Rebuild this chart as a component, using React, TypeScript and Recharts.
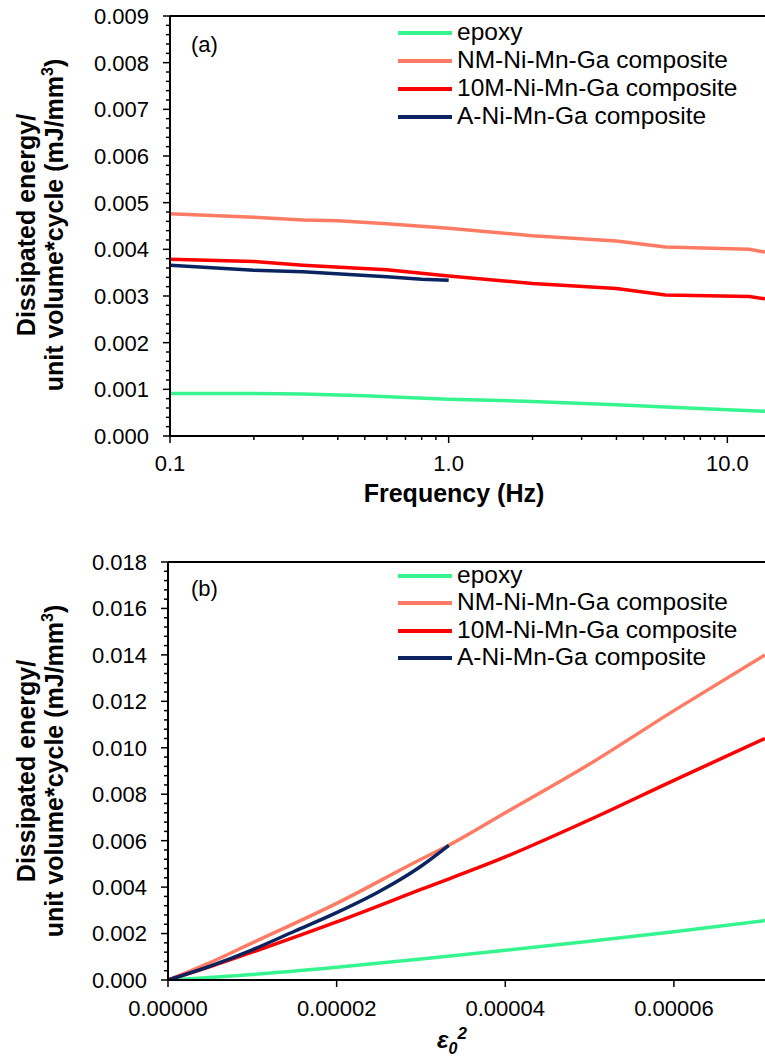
import React from 'react';
import { LineChart, Line, XAxis, YAxis, ReferenceLine } from 'recharts';

const FONT = '"Liberation Sans", Arial, Helvetica, sans-serif';

// ---------- series names & colours ----------
const seriesNames = ['epoxy', 'NM-Ni-Mn-Ga composite', '10M-Ni-Mn-Ga composite', 'A-Ni-Mn-Ga composite'];
const seriesColors = ['#36f58e', '#ff7b63', '#ff0000', '#0b2461'];

// ---------- panel (a): dissipated energy vs frequency ----------
const freqEpoxy = [0.1, 0.2, 0.3, 0.5, 1, 2, 4, 6, 10, 13.65];
const energyEpoxyA = [0.00091, 0.00091, 0.0009, 0.00086, 0.00079, 0.00074, 0.00067, 0.00062, 0.00056, 0.00053];
const freqNM = [0.1, 0.2, 0.3, 0.4, 0.6, 1, 2, 4, 6, 12, 13.65];
const energyNMA = [0.00476, 0.00469, 0.00463, 0.00461, 0.00455, 0.00445, 0.00429, 0.00418, 0.00405, 0.004, 0.00394];
const freq10M = [0.1, 0.2, 0.3, 0.6, 1, 2, 4, 6, 12, 13.65];
const energy10MA = [0.00379, 0.00374, 0.00366, 0.00356, 0.00343, 0.00327, 0.00316, 0.00302, 0.00299, 0.00294];
const freqA = [0.1, 0.2, 0.3, 0.6, 0.8, 1.0];
const energyAA = [0.00366, 0.00355, 0.00352, 0.00341, 0.00336, 0.00334];

// ---------- panel (b): dissipated energy vs strain amplitude squared ----------
const strainEpoxy = [0, 0.00001, 0.00002, 0.00003, 0.00004, 0.00005, 0.00006, 0.0000708];
const energyEpoxyB = [0, 0.00024, 0.00055, 0.0009, 0.00128, 0.00167, 0.00208, 0.00256];
const strainNM = [0, 0.000005, 0.00001, 0.00002, 0.00003, 0.0000333, 0.00004, 0.00005, 0.00006, 0.0000708];
const energyNMB = [0, 0.00075, 0.0016, 0.0033, 0.0052, 0.0058, 0.0072, 0.0093, 0.0116, 0.014];
const strain10M = [0, 0.000005, 0.00001, 0.00002, 0.00003, 0.00004, 0.00005, 0.00006, 0.0000708];
const energy10MB = [0, 0.00058, 0.0012, 0.0025, 0.0039, 0.0053, 0.0069, 0.0086, 0.0104];
const strainA = [0, 0.000005, 0.00001, 0.000015, 0.00002, 0.000025, 0.00003, 0.0000333];
const energyAB = [0, 0.0006, 0.0013, 0.0021, 0.0029, 0.0038, 0.0049, 0.0058];

// ---------- axis ticks ----------
const freqMajorTicks = [0.1, 1, 10];
const freqMajorLabels = ['0.1', '1.0', '10.0'];
const freqMinorTicks = [0.2, 0.3, 0.4, 0.5, 0.6, 0.7, 0.8, 0.9, 2, 3, 4, 5, 6, 7, 8, 9];
const yMajorTicksA = [0, 0.001, 0.002, 0.003, 0.004, 0.005, 0.006, 0.007, 0.008, 0.009];
const yMinorStepA = 0.0002;
const strainTicks = [0, 0.00002, 0.00004, 0.00006];
const strainLabels = ['0.00000', '0.00002', '0.00004', '0.00006'];
const yMajorTicksB = [0, 0.002, 0.004, 0.006, 0.008, 0.01, 0.012, 0.014, 0.016, 0.018];
const yMinorStepB = 0.0004;

const zip = (xs: number[], ys: number[]) => xs.map((x, i) => ({ x, y: ys[i] }));

const seriesA = [zip(freqEpoxy, energyEpoxyA), zip(freqNM, energyNMA), zip(freq10M, energy10MA), zip(freqA, energyAA)];
const seriesB = [zip(strainEpoxy, energyEpoxyB), zip(strainNM, energyNMB), zip(strain10M, energy10MB), zip(strainA, energyAB)];

const buildTicks = (majors: number[], step: number) => {
  const max = majors[majors.length - 1];
  const n = Math.round(max / step);
  const out: number[] = [];
  for (let i = 0; i <= n; i++) out.push(+(i * step).toFixed(6));
  return out;
};
const yTicksA = buildTicks(yMajorTicksA, yMinorStepA);
const yTicksB = buildTicks(yMajorTicksB, yMinorStepB);

const isMajor = (v: number, majors: number[]) => majors.some((m) => Math.abs(m - v) < 1e-9);

const makeYTick = (majors: number[]) => (props: any) => {
  const { x, y, payload } = props;
  const major = isMajor(payload.value, majors);
  return (
    <g>
      <line x1={x} x2={x - (major ? 7 : 4)} y1={y} y2={y} stroke="#000" strokeWidth={1.5} />
      {major && (
        <text x={x - 21} y={y} dy="0.36em" textAnchor="end" fontSize={22} fontFamily={FONT} fill="#000">
          {payload.value.toFixed(3)}
        </text>
      )}
    </g>
  );
};

const FreqTick = (props: any) => {
  const { x, y, payload } = props;
  const idx = freqMajorTicks.findIndex((m) => Math.abs(m - payload.value) < 1e-9);
  const major = idx >= 0;
  return (
    <g>
      <line x1={x} x2={x} y1={y} y2={y + (major ? 7 : 4)} stroke="#000" strokeWidth={1.5} />
      {major && (
        <text x={x} y={y + 35} textAnchor="middle" fontSize={22} fontFamily={FONT} fill="#000">
          {freqMajorLabels[idx]}
        </text>
      )}
    </g>
  );
};

const StrainTick = (props: any) => {
  const { x, y, payload } = props;
  const idx = strainTicks.findIndex((m) => Math.abs(m - payload.value) < 1e-12);
  return (
    <g>
      <line x1={x} x2={x} y1={y} y2={y + 7} stroke="#000" strokeWidth={1.5} />
      <text x={x} y={y + 36} textAnchor="middle" fontSize={22} fontFamily={FONT} fill="#000">
        {idx >= 0 ? strainLabels[idx] : ''}
      </text>
    </g>
  );
};

const Legend = ({ left, top, gap }: { left: number; top: number; gap: number }) => (
  <div style={{ position: 'absolute', left, top, fontFamily: FONT, fontSize: 24.5, color: '#000' }}>
    {seriesNames.map((name, i) => (
      <div key={name} style={{ position: 'absolute', left: 0, top: i * gap, whiteSpace: 'nowrap', height: gap }}>
        <div style={{ position: 'absolute', left: 0, top: -2, width: 54, height: 4, background: seriesColors[i] }} />
        <div style={{ position: 'absolute', left: 59, top: -15, lineHeight: '28px' }}>{name}</div>
      </div>
    ))}
  </div>
);

const YTitle = ({ cy }: { cy: number }) => (
  <g fontFamily={FONT} fontWeight="bold" fontSize={25} fill="#000">
    <text transform={`translate(35,${cy}) rotate(-90)`} textAnchor="middle">Dissipated energy/</text>
    <text transform={`translate(63,${cy}) rotate(-90)`} textAnchor="middle">
      unit volume*cycle (mJ/mm<tspan fontSize={16} dy={-10}>3</tspan><tspan dy={10}>)</tspan>
    </text>
  </g>
);

export default function App() {
  return (
    <div style={{ position: 'absolute', left: 0, top: 0, width: 765, height: 1057, background: '#fff', overflow: 'hidden' }}>
      {/* Panel (a) */}
      <div style={{ position: 'absolute', left: 0, top: 0 }}>
        <LineChart width={765} height={510} margin={{ top: 16, right: 0, bottom: 0, left: 0 }}>
          <XAxis
            dataKey="x"
            type="number"
            scale="log"
            domain={[0.1, 13.65]}
            allowDataOverflow
            ticks={[...freqMajorTicks, ...freqMinorTicks].sort((a, b) => a - b)}
            interval={0}
            tickSize={0}
            tickMargin={0}
            tickLine={false}
            tick={FreqTick}
            height={74}
            axisLine={{ stroke: '#000', strokeWidth: 2 }}
          />
          <YAxis
            type="number"
            domain={[0, 0.009]}
            allowDataOverflow
            ticks={yTicksA}
            interval={0}
            tickSize={0}
            tickMargin={0}
            tickLine={false}
            tick={makeYTick(yMajorTicksA)}
            width={170}
            axisLine={{ stroke: '#000', strokeWidth: 2 }}
          />
          <ReferenceLine y={0.009} stroke="#000" strokeWidth={2} />
          {seriesA.map((d, i) => (
            <Line
              key={seriesNames[i]}
              data={d}
              dataKey="y"
              name={seriesNames[i]}
              type="linear"
              stroke={seriesColors[i]}
              strokeWidth={3.5}
              dot={false}
              isAnimationActive={false}
            />
          ))}
        </LineChart>
      </div>

      {/* Panel (b) */}
      <div style={{ position: 'absolute', left: 0, top: 540 }}>
        <LineChart width={765} height={517} margin={{ top: 22, right: 0, bottom: 0, left: 0 }}>
          <XAxis
            dataKey="x"
            type="number"
            domain={[0, 0.0000708]}
            allowDataOverflow
            ticks={strainTicks}
            interval={0}
            tickSize={0}
            tickMargin={0}
            tickLine={false}
            tick={StrainTick}
            height={77}
            axisLine={{ stroke: '#000', strokeWidth: 2 }}
          />
          <YAxis
            type="number"
            domain={[0, 0.018]}
            allowDataOverflow
            ticks={yTicksB}
            interval={0}
            tickSize={0}
            tickMargin={0}
            tickLine={false}
            tick={makeYTick(yMajorTicksB)}
            width={168}
            axisLine={{ stroke: '#000', strokeWidth: 2 }}
          />
          <ReferenceLine y={0.018} stroke="#000" strokeWidth={2} />
          {seriesB.map((d, i) => (
            <Line
              key={seriesNames[i]}
              data={d}
              dataKey="y"
              name={seriesNames[i]}
              type="monotone"
              stroke={seriesColors[i]}
              strokeWidth={3.5}
              dot={false}
              isAnimationActive={false}
            />
          ))}
        </LineChart>
      </div>

      {/* Titles and panel labels */}
      <svg width={765} height={1057} style={{ position: 'absolute', left: 0, top: 0, pointerEvents: 'none' }}>
        <YTitle cy={225} />
        <YTitle cy={771} />
        <text x={454} y={502} textAnchor="middle" fontFamily={FONT} fontWeight="bold" fontSize={25} fill="#000">
          Frequency (Hz)
        </text>
        <text x={437} y={1048} fontFamily={FONT} fontWeight="bold" fontStyle="italic" fontSize={24} fill="#000">
          ε<tspan fontSize={16} dy={6}>0</tspan><tspan fontSize={17} dy={-15}>2</tspan>
        </text>
        <text x={191} y={52} fontFamily={FONT} fontSize={22} fill="#000">(a)</text>
        <text x={191} y={596} fontFamily={FONT} fontSize={22} fill="#000">(b)</text>
      </svg>

      <Legend left={398} top={33} gap={28} />
      <Legend left={398} top={576} gap={27.3} />
    </div>
  );
}
